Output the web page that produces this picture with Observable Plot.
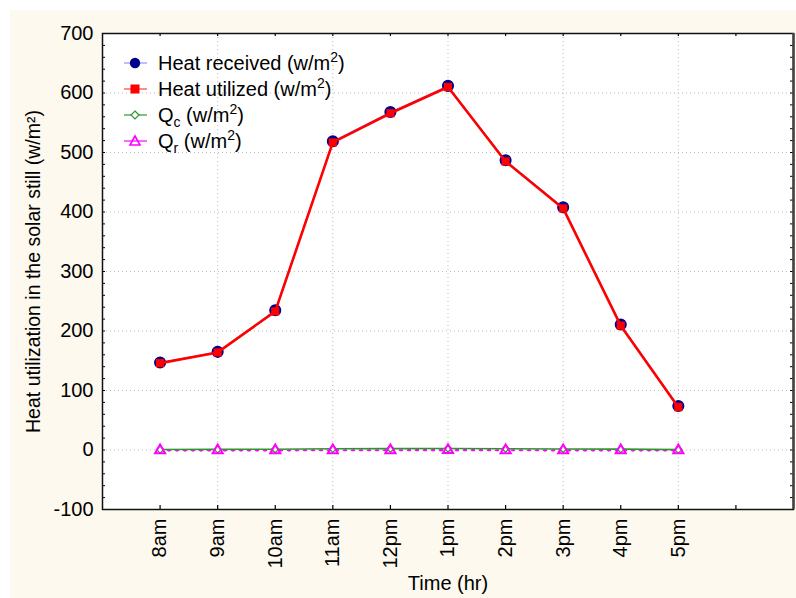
<!DOCTYPE html>
<html>
<head>
<meta charset="utf-8">
<script src="https://cdn.jsdelivr.net/npm/d3@7"></script>
<script src="https://cdn.jsdelivr.net/npm/@observablehq/plot@0.6"></script>
<style>
  html, body { margin: 0; padding: 0; background: #ffffff; }
  #wrap { position: relative; width: 796px; height: 598px; overflow: hidden; }
  #cream { position: absolute; left: 10px; top: 10px; width: 786px; height: 588px; background: #fdf9ee; }
  #chart { position: absolute; left: 0; top: 0; }
  #chart svg { background: transparent !important; }
</style>
</head>
<body>
<div id="wrap"><div id="cream"></div><div id="chart"></div></div>
<script>
// ---- data ----
const times = ["8am", "9am", "10am", "11am", "12pm", "1pm", "2pm", "3pm", "4pm", "5pm"];
const heatReceived = [147, 165, 235, 519, 568, 612, 487, 408, 211, 74];
const heatUtilized = [146, 164, 233, 517, 566, 610, 485, 406, 209, 72];
const qc = [0.8, 1.0, 1.3, 2.0, 2.3, 2.6, 2.2, 1.8, 1.4, 0.7];
const qr = [-0.6, -0.6, -0.5, -0.4, -0.4, -0.3, -0.4, -0.5, -0.5, -0.6];
const yTicks = [-100, 0, 100, 200, 300, 400, 500, 600, 700];
const yMinor = d3.range(-100, 701, 20);
const xSlots = [1, 2, 3, 4, 5, 6, 7, 8, 9, 10, 11];
const xGrid = [2, 4, 6, 8, 10];

// tidy rows (x index 1..10 for the ten hours)
const rows = (vals) => vals.map((v, i) => ({x: i + 1, t: times[i], v}));
const recv = rows(heatReceived), util = rows(heatUtilized), rc = rows(qc), rr = rows(qr);

const W = 796, H = 598, mL = 102, mT = 33, mR = 3, mB = 89;
const pw = W - mL - mR, ph = H - mT - mB;
const font = "'Liberation Sans', Arial, sans-serif";
const FS = 20;

const chart = Plot.plot({
  width: W, height: H,
  marginLeft: mL, marginTop: mT, marginRight: mR, marginBottom: mB,
  style: {fontFamily: font, fontSize: FS + "px", color: "#000", background: "transparent"},
  x: {type: "linear", domain: [0, 12]},
  y: {domain: [-100, 700]},
  marks: [
    Plot.frame({fill: "white", stroke: null}),
    Plot.gridY(yTicks, {stroke: "#bbbbbb", strokeOpacity: 1, strokeDasharray: "1,3"}),
    Plot.gridX(xGrid, {stroke: "#bbbbbb", strokeOpacity: 1, strokeDasharray: "1,3"}),
    // inward ticks
    Plot.tickY(yMinor, {y: d => d, insetRight: pw - 3, stroke: "#000", strokeWidth: 1}),
    Plot.tickY(yMinor, {y: d => d, insetLeft: pw - 3, stroke: "#000", strokeWidth: 1}),
    Plot.tickX(xSlots, {x: d => d, insetTop: ph - 4, stroke: "#000", strokeWidth: 1.2}),
    Plot.tickX(xSlots, {x: d => d, insetBottom: ph - 3, stroke: "#000", strokeWidth: 1.2}),
    Plot.axisY(yTicks, {tickSize: 0, tickPadding: 9, label: null, fontSize: FS, tickFormat: d => String(d)}),
    Plot.axisX(d3.range(1, 11), {tickSize: 0, tickPadding: 9, tickRotate: -90, label: null,
      tickFormat: d => times[d - 1], fontSize: FS}),
    Plot.frame({stroke: "#111", strokeWidth: 1.5}),
    Plot.ruleX([12], {stroke: "#444", strokeWidth: 2.5}),
    // series
    Plot.line(rr, {x: "x", y: "v", stroke: "#ff00ff", strokeWidth: 2.2, strokeDasharray: "2,6"}),
    Plot.line(rc, {x: "x", y: "v", stroke: "#2f962f", strokeWidth: 1.6}),
    Plot.dot(rc, {x: "x", y: "v", symbol: "diamond2", r: 3.2, stroke: "#2f962f", fill: "white", strokeWidth: 1.2}),
    Plot.dot(rr, {x: "x", y: "v", symbol: "triangle2", r: 4.8, stroke: "#ff00ff", fill: "none", strokeWidth: 2}),
    Plot.line(recv, {x: "x", y: "v", stroke: "#7c7cff", strokeWidth: 1}),
    Plot.dot(recv, {x: "x", y: "v", r: 5.3, fill: "#00008b", stroke: "#00008b"}),
    Plot.line(util, {x: "x", y: "v", stroke: "#ff0000", strokeWidth: 2.6}),
    Plot.dot(util, {x: "x", y: "v", symbol: "square", r: 4.6, fill: "#ff0000", stroke: "none"}),
    // axis titles
    Plot.text(["Time (hr)"], {frameAnchor: "bottom", dy: 80, fontSize: FS, fill: "#000", textAnchor: "middle"}),
    Plot.text(["Heat utilization in the solar still (w/m\u00B2)"], {frameAnchor: "left", dx: -69, rotate: -90,
      fontSize: 19.5, fill: "#000", textAnchor: "middle"})
  ]
});
document.getElementById("chart").appendChild(chart);

// ---- legend (inside plot, upper left) ----
const svg = d3.select(chart);
const lg = svg.append("g").attr("font-family", font).attr("font-size", FS).attr("fill", "#000")
  .attr("text-anchor", "start");
const legendItems = [
  {name: "Heat received", sub: null, stroke: "#7c7cff", sw: 1, sym: "circle"},
  {name: "Heat utilized", sub: null, stroke: "#ff6666", sw: 1.5, sym: "square"},
  {name: "Q", sub: "c", stroke: "#2f962f", sw: 1.2, sym: "diamond"},
  {name: "Q", sub: "r", stroke: "#ff00ff", sw: 1.2, sym: "triangle"}
];
const lx = 135, ly0 = 63, dy = 26;
legendItems.forEach((it, i) => {
  const cy = ly0 + i * dy;
  lg.append("line").attr("x1", lx - 11).attr("x2", lx + 12).attr("y1", cy).attr("y2", cy)
    .attr("stroke", it.stroke).attr("stroke-width", it.sw);
  if (it.sym === "circle") lg.append("circle").attr("cx", lx).attr("cy", cy).attr("r", 5.2).attr("fill", "#00008b");
  if (it.sym === "square") lg.append("rect").attr("x", lx - 4.5).attr("y", cy - 4.5).attr("width", 9).attr("height", 9).attr("fill", "#ff0000");
  if (it.sym === "diamond") lg.append("path").attr("d", `M${lx},${cy-4}L${lx+4},${cy}L${lx},${cy+4}L${lx-4},${cy}Z`)
    .attr("fill", "white").attr("stroke", "#2f962f").attr("stroke-width", 1.2);
  if (it.sym === "triangle") lg.append("path").attr("d", `M${lx},${cy-5}L${lx+5},${cy+4}L${lx-5},${cy+4}Z`)
    .attr("fill", "none").attr("stroke", "#ff00ff").attr("stroke-width", 1.6);
  const t = lg.append("text").attr("x", 158).attr("y", cy + 7);
  t.append("tspan").text(it.name);
  if (it.sub) t.append("tspan").attr("font-size", 14).attr("dy", 5).text(it.sub);
  t.append("tspan").attr("dy", it.sub ? -5 : 0).text(" (w/m");
  t.append("tspan").attr("font-size", 14).attr("dy", -8).text("2");
  t.append("tspan").attr("dy", 8).text(")");
});
</script>
</body>
</html>
